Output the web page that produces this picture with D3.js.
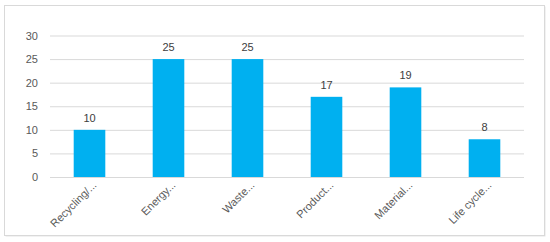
<!DOCTYPE html>
<html><head><meta charset="utf-8">
<script src="https://cdn.jsdelivr.net/npm/d3@7/dist/d3.min.js"></script>
<style>body{margin:0;background:#fff;}svg{display:block;font-family:"Liberation Sans",Arial,sans-serif;}</style>
</head><body><svg id="c" width="550" height="242"></svg>
<script>
const categories = ["Recycling/...", "Energy...", "Waste...", "Product...", "Material...", "Life cycle..."];
const values = [10, 25, 25, 17, 19, 8];
const yTicks = [0, 5, 10, 15, 20, 25, 30];

const svg = d3.select("#c");
svg.append("rect").attr("x", 5.5).attr("y", 6.5).attr("width", 540).attr("height", 230)
  .attr("fill", "#e6e6e6");
svg.append("rect").attr("x", 4.5).attr("y", 5.5).attr("width", 540).attr("height", 230)
  .attr("fill", "#fff").attr("stroke", "#d9d9d9").attr("stroke-width", 1);

const x = d3.scaleBand().domain(categories).range([50, 524]).paddingInner(0.6).paddingOuter(0.3);
const y = d3.scaleLinear().domain([0, 30]).range([177, 35.5]);

const yAxis = svg.append("g").attr("transform", "translate(50,0)")
  .call(d3.axisLeft(y).tickValues(yTicks).tickSize(-474).tickPadding(12));
yAxis.select(".domain").remove();
yAxis.selectAll("line").attr("stroke", "#d9d9d9");
yAxis.selectAll("text").attr("fill", "#595959").style("font-size", "11px");

svg.append("g").selectAll("rect").data(values).join("rect")
  .attr("x", (d, i) => x(categories[i]))
  .attr("y", d => y(d))
  .attr("width", x.bandwidth())
  .attr("height", d => y(0) - y(d))
  .attr("fill", "#00b0f0");

svg.append("g").selectAll("text").data(values).join("text")
  .attr("x", (d, i) => x(categories[i]) + x.bandwidth() / 2)
  .attr("y", d => y(d) - 8)
  .attr("text-anchor", "middle").attr("fill", "#404040").style("font-size", "11px")
  .text(d => d);

const xAxis = svg.append("g").attr("transform", `translate(0,${y(0)})`)
  .call(d3.axisBottom(x).tickSize(0).tickPadding(0));
xAxis.select(".domain").remove();
xAxis.selectAll("text")
  .attr("fill", "#595959").style("font-size", "11px")
  .attr("text-anchor", "end")
  .attr("dy", "0.35em")
  .attr("transform", "translate(5,6) rotate(-45)");
</script></body></html>
